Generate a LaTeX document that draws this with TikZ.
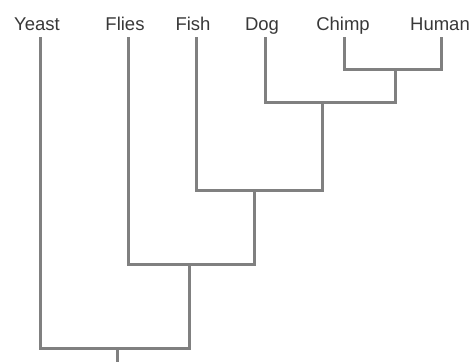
\documentclass[tikz,border=0pt]{standalone}
\usepackage{fontspec}
\setmainfont{Liberation Sans}
\begin{document}
\begin{tikzpicture}[x=1pt,y=-1pt,
  branch/.style={draw=black!50, line width=3pt, line join=miter, line cap=rect},
  taxon/.style={font=\fontsize{18.5}{20}\selectfont, text=black!78, inner sep=0pt, anchor=base}]
\useasboundingbox (0,0) rectangle (472,362);

% taxon labels
\node[taxon] (yeast) at (37,30) {Yeast};
\node[taxon] (flies) at (125,30) {Flies};
\node[taxon] (fish)  at (193,30) {Fish};
\node[taxon] (dog)   at (262,30) {Dog};
\node[taxon] (chimp) at (343,30) {Chimp};
\node[taxon] (human) at (440,30) {Human};

% tips of the branches, just below each label
\coordinate (yeastT) at (40,38);
\coordinate (fliesT) at (128,38);
\coordinate (fishT)  at (196,38);
\coordinate (dogT)   at (265,38);
\coordinate (chimpT) at (344,38);
\coordinate (humanT) at (441,38);

% internal nodes of the tree
\coordinate (ch)   at (395,69);
\coordinate (dch)  at (322,102);
\coordinate (fdch) at (254,190);
\coordinate (fl)   at (189,264);
\coordinate (root) at (117,348);
\coordinate (base) at (117,364);

\draw[branch] (chimpT) |- (ch) -| (humanT);
\draw[branch] (dogT) |- (dch) -| (ch);
\draw[branch] (fishT) |- (fdch) -| (dch);
\draw[branch] (fliesT) |- (fl) -| (fdch);
\draw[branch] (yeastT) |- (root) -| (fl);
\draw[branch] (root) -- (base);
\end{tikzpicture}
\end{document}
